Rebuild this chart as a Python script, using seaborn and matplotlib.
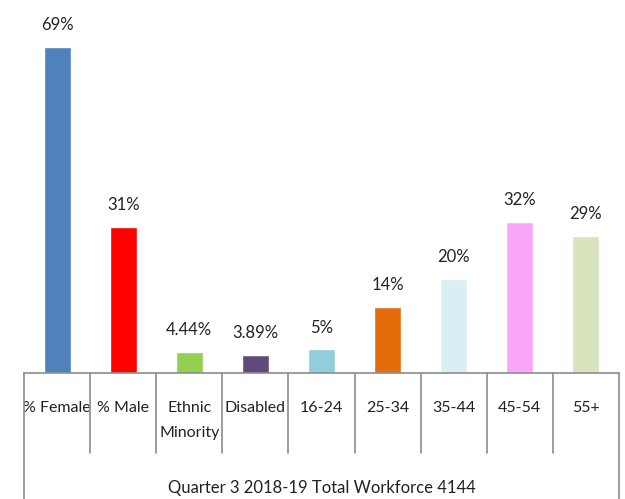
import matplotlib
matplotlib.use("Agg")
import matplotlib.pyplot as plt
import seaborn as sns
import pandas as pd

categories = ["% Female", "% Male", "Ethnic\nMinority", "Disabled",
              "16-24", "25-34", "35-44", "45-54", "55+"]
values = [69, 31, 4.44, 3.89, 5, 14, 20, 32, 29]
value_labels = ["69%", "31%", "4.44%", "3.89%", "5%", "14%", "20%", "32%", "29%"]
bar_colors = ["#4F81BD", "#FF0000", "#92D050", "#604A7B", "#92CDDC",
              "#E46C0A", "#DAEEF3", "#F9A6F9", "#D7E4BD"]
caption = "Quarter 3 2018-19 Total Workforce 4144"

sns.set_style("white")
plt.rcParams["font.family"] = ["Lato", "DejaVu Sans"]

df = pd.DataFrame({"category": categories, "value": values})

fig = plt.figure(figsize=(6.25, 4.99), dpi=100)
ax = fig.add_axes([24 / 625, 126 / 499, 595 / 625, 373 / 499])

sns.barplot(data=df, x="category", y="value", hue="category",
            palette=bar_colors, width=0.41, legend=False, ax=ax,
            saturation=1)

ax.set_xlim(-0.5, len(categories) - 0.5)
ax.set_ylim(0, 79)
ax.set_ylabel("")
ax.set_xlabel("")
ax.set_yticks([])

# one container per hue level, in category order
for i, c in enumerate(ax.containers):
    ax.bar_label(c, labels=[value_labels[i]], padding=10, fontsize=12,
                 color="#222222")

for s in ["top", "right", "left"]:
    ax.spines[s].set_visible(False)
ax.spines["bottom"].set_color("#8c8c8c")
ax.spines["bottom"].set_linewidth(1.2)

ax.tick_params(axis="x", length=0, pad=20, labelsize=11.5, labelcolor="#222222")
for lbl in ax.get_xticklabels():
    lbl.set_linespacing(2.05)

# table-style grid under the axis
trans = ax.get_xaxis_transform()
sep_bottom = -80 / 373
frame_bottom = -126 / 373
for i in range(1, len(categories)):
    ax.plot([i - 0.5, i - 0.5], [0, sep_bottom], transform=trans,
            color="#8c8c8c", lw=1.2, clip_on=False)
for xv in [-0.5, len(categories) - 0.5]:
    ax.plot([xv, xv], [0, frame_bottom], transform=trans,
            color="#8c8c8c", lw=1.2, clip_on=False)

ax.text(0.5, -115 / 373, caption, transform=ax.transAxes, ha="center",
        va="center", fontsize=12, color="#222222")

fig.savefig("out.png", dpi=100, facecolor="white")
